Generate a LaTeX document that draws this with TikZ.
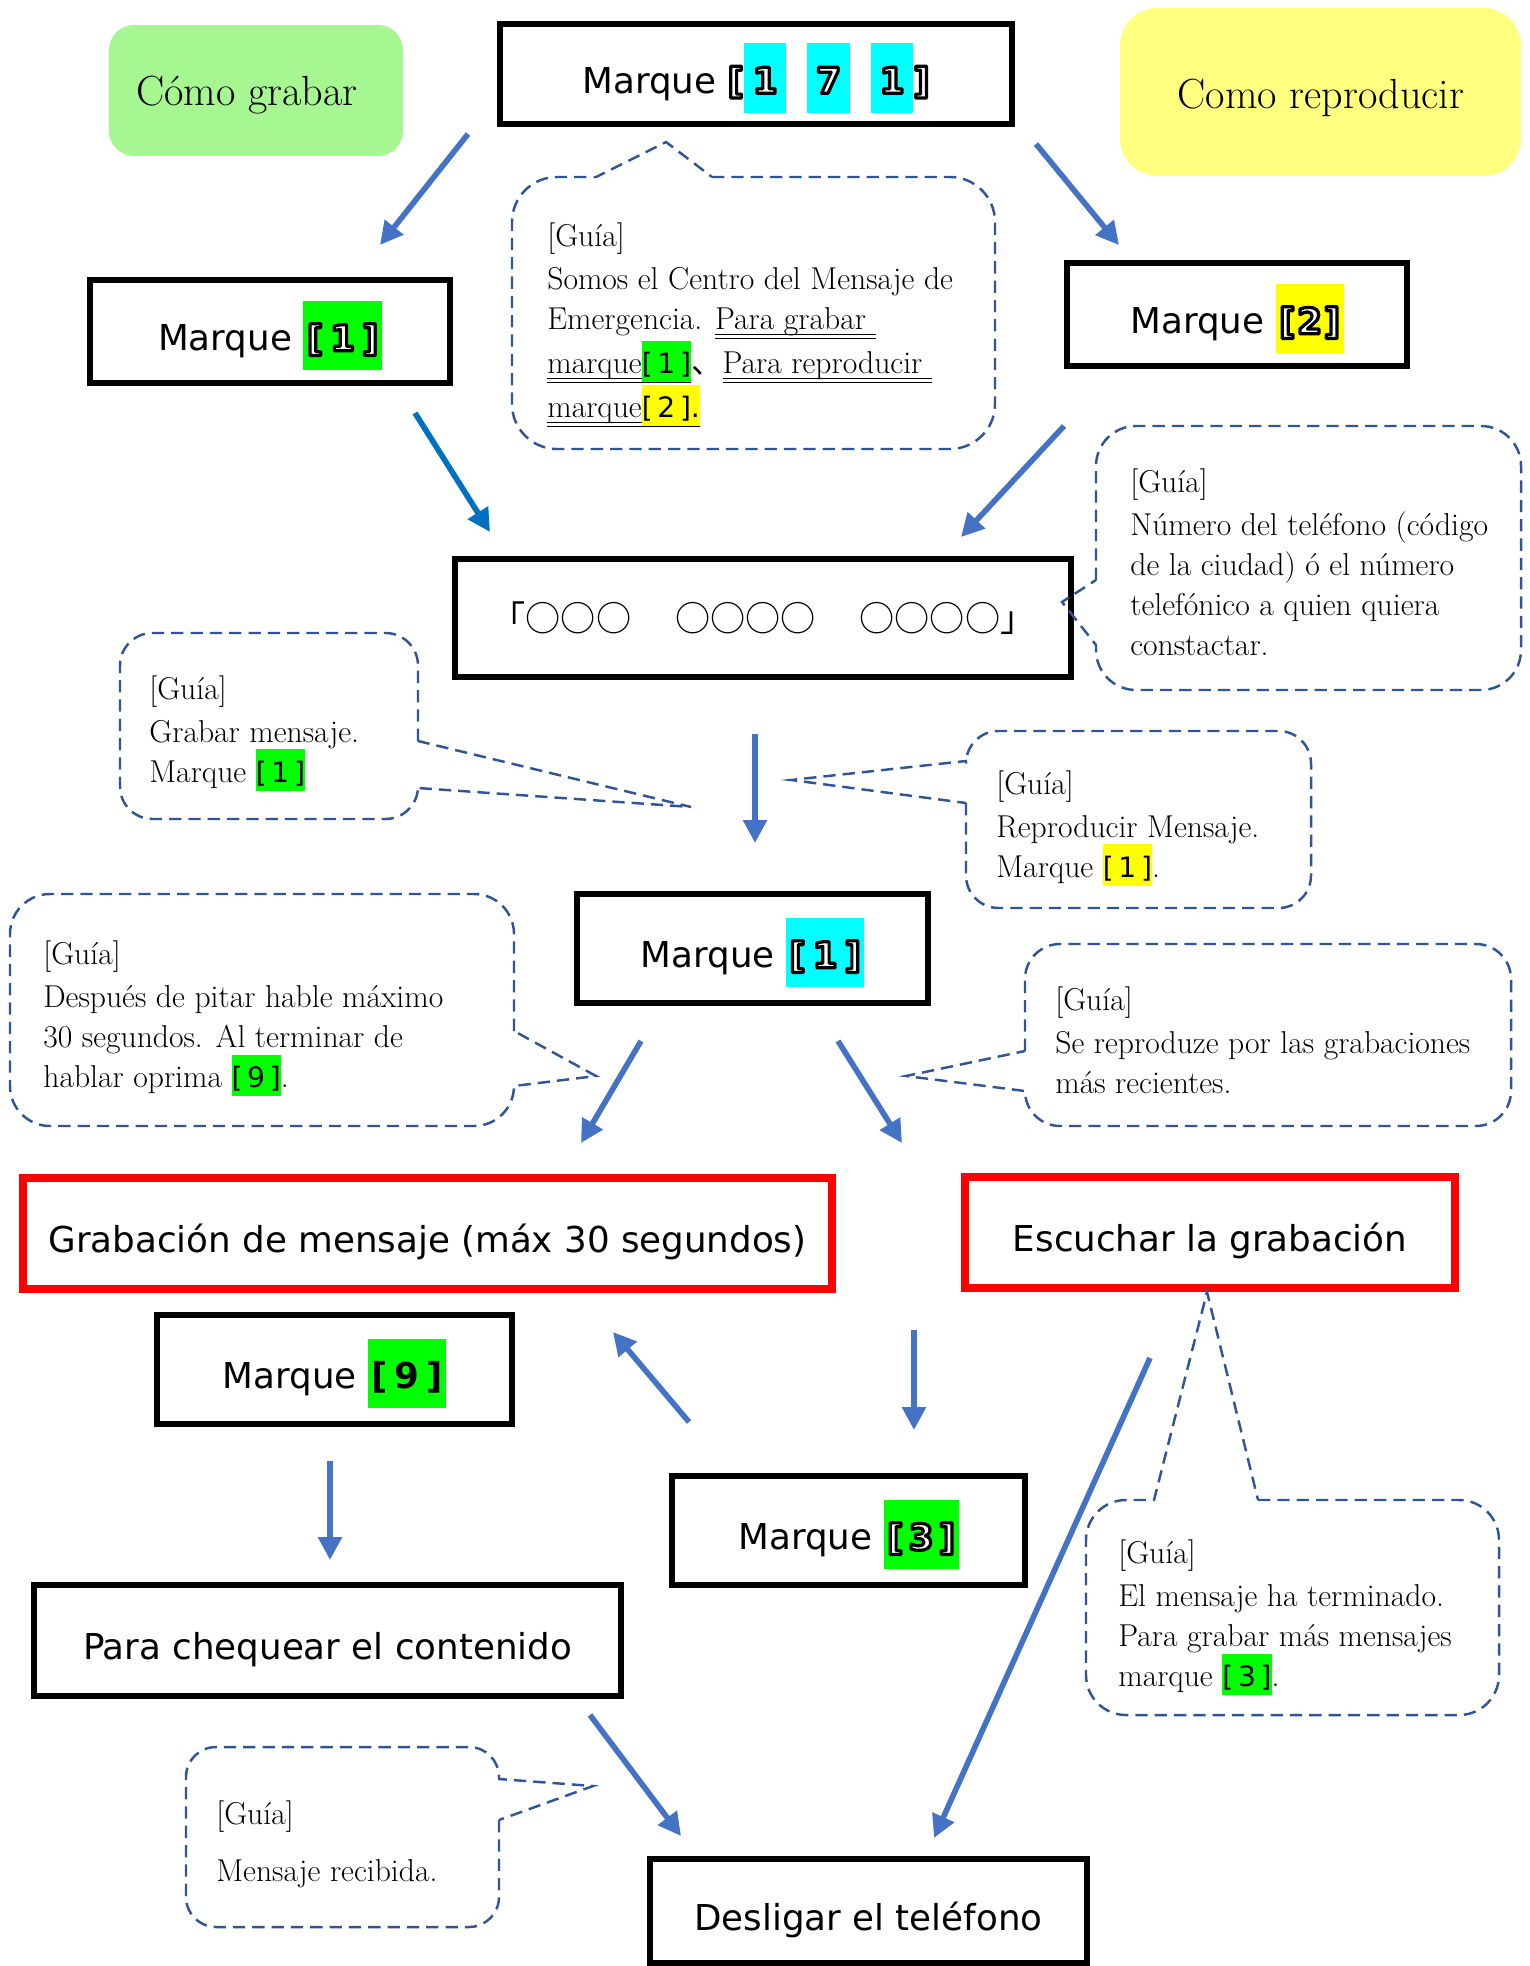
\documentclass[tikz,border=0pt]{standalone}
\usepackage{fontspec}
\usetikzlibrary{arrows.meta}
\newfontfamily\boxfont{DejaVu Sans}
\newfontfamily\olfont{DejaVu Sans Bold}[FakeBold=9]
\newfontfamily\cjk{Noto Sans CJK JP}
\definecolor{arrowblue}{RGB}{68,114,196}
\definecolor{arrowdark}{RGB}{0,112,192}
\definecolor{callblue}{RGB}{47,85,151}
\definecolor{hlcyan}{RGB}{0,255,255}
\definecolor{hlgreen}{RGB}{0,255,0}
\definecolor{hlyellow}{RGB}{255,255,0}
\definecolor{titlegreen}{RGB}{166,246,146}
\definecolor{titleyellow}{RGB}{255,255,128}
\newcommand\olt[1]{{\olfont\color{white}\special{pdf:literal direct 0 G 1 j}#1}}
\newcommand\hlb[2]{{\setlength{\fboxsep}{0pt}\colorbox{#1}{\rule[-0.55em]{0pt}{1.95em}#2}}}
\newcommand\hls[2]{{\setlength{\fboxsep}{0pt}\colorbox{#1}{\rule[-0.25em]{0pt}{1.3em}{\boxfont\fontsize{16pt}{16pt}\selectfont #2}}}}
\newcommand\dul[1]{\setbox0\hbox{#1}\rlap{\rule[-3.2pt]{\wd0}{0.6pt}}\rlap{\rule[-5.2pt]{\wd0}{0.6pt}}\box0}
\begin{document}
\begin{tikzpicture}[x=0.02cm,y=-0.02cm,
 box/.style={draw=black,line width=3.2pt,inner sep=0pt,align=center,font=\boxfont\fontsize{20.3pt}{24pt}\selectfont},
 ptext/.style={text height=26.8pt,text depth=4.9pt},
 htext/.style={text height=30pt,text depth=8pt},
 rbox/.style={box,ptext,draw=red,line width=4.3pt},
 ttl/.style={inner sep=0pt,font=\fontsize{24pt}{28pt}\selectfont},
 arr/.style={draw=arrowblue,line width=3.2pt,-{Triangle[length=13pt,width=13pt]}},
 callout/.style={draw=callblue,line width=1.4pt,dash pattern=on 7pt off 4pt},
 gtext/.style={anchor=north west,inner sep=0pt,align=left,font=\fontsize{18pt}{22.8pt}\selectfont}]
\useasboundingbox (0,0) rectangle (1529,1966);

% titles
\node[fill=titlegreen,rounded corners=0.5cm,minimum width=5.88cm,minimum height=2.62cm,inner sep=0pt] (tg) at (256,90.5) {};
\node[ttl] (tgt) at (247,95) {Cómo grabar};
\node[fill=titleyellow,rounded corners=0.75cm,minimum width=8.02cm,minimum height=3.36cm,inner sep=0pt] (ty) at (1320.5,92) {};
\node[ttl] (tyt) at (1321,98) {Como reproducir};

% boxes
\node[box,htext,minimum width=10.24cm,minimum height=2cm] (b171) at (756,74) {Marque \olt{[}\hlb{hlcyan}{\hspace{5pt}\olt{1}\hspace{5pt}}\hspace{12pt}\hlb{hlcyan}{\hspace{5pt}\olt{7}\hspace{5pt}}\hspace{12pt}\hlb{hlcyan}{\hspace{5pt}\olt{1}\hspace{5pt}}\olt{]}};
\node[box,htext,minimum width=7.2cm,minimum height=2.06cm] (b1) at (270,331.5) {Marque \hlb{hlgreen}{\hspace{2pt}\olt{[}\hspace{4pt}\olt{1}\hspace{4pt}\olt{]}\hspace{2pt}}};
\node[box,htext,minimum width=6.8cm,minimum height=2.06cm] (b2) at (1237,314.5) {Marque \hlb{hlyellow}{\hspace{2pt}\olt{[}\hspace{1pt}\olt{2}\hspace{1pt}\olt{]}\hspace{2pt}}};
\node[box,minimum width=12.32cm,minimum height=2.36cm] (phone) at (763,618) {{\cjk\fontsize{20pt}{24pt}\selectfont 「○○○\hspace{1.25em}○○○○\hspace{1.25em}○○○○」}};
\node[box,htext,minimum width=7.02cm,minimum height=2.18cm] (m1) at (752.5,948.5) {Marque \hlb{hlcyan}{\hspace{2pt}\olt{[}\hspace{4pt}\olt{1}\hspace{4pt}\olt{]}\hspace{2pt}}};
\node[rbox,minimum width=16.18cm,minimum height=2.22cm] (grab) at (427.5,1233.5) {Grabación de mensaje (máx 30 segundos)};
\node[rbox,minimum width=9.8cm,minimum height=2.22cm] (esc) at (1210,1232.5) {Escuchar la grabación};
\node[box,htext,minimum width=7.1cm,minimum height=2.18cm] (m9) at (334.5,1369.5) {Marque \hlb{hlgreen}{\hspace{2pt}\bfseries[\hspace{4pt}9\hspace{4pt}]\hspace{2pt}}};
\node[box,htext,minimum width=7.06cm,minimum height=2.18cm] (m3) at (848.5,1530.5) {Marque \hlb{hlgreen}{\hspace{2pt}\olt{[}\hspace{3pt}\olt{3}\hspace{3pt}\olt{]}\hspace{2pt}}};
\node[box,ptext,minimum width=11.74cm,minimum height=2.22cm] (chk) at (327.5,1640.5) {Para chequear el contenido};
\node[box,ptext,minimum width=8.74cm,minimum height=2.08cm] (des) at (868.5,1911) {Desligar el teléfono};

% arrows
\coordinate (a1s) at (468,134);  \coordinate (a1e) at (380,245);
\coordinate (a2s) at (1036,144); \coordinate (a2e) at (1119,245);
\coordinate (a3s) at (415,413);  \coordinate (a3e) at (490,532);
\coordinate (a4s) at (1064,426); \coordinate (a4e) at (961,537);
\coordinate (a5s) at (755,734);  \coordinate (a5e) at (755,843);
\coordinate (a6s) at (641,1041); \coordinate (a6e) at (581,1143);
\coordinate (a7s) at (838,1041); \coordinate (a7e) at (902,1143);
\coordinate (a8s) at (689,1422); \coordinate (a8e) at (613,1332);
\coordinate (a9s) at (914,1330); \coordinate (a9e) at (914,1430);
\coordinate (a10s) at (330,1461); \coordinate (a10e) at (330,1560);
\coordinate (a11s) at (1150,1358); \coordinate (a11e) at (934,1838);
\coordinate (a12s) at (590,1715); \coordinate (a12e) at (681,1836);
\draw[arr] (a1s) -- (a1e);
\draw[arr] (a2s) -- (a2e);
\draw[arr,draw=arrowdark] (a3s) -- (a3e);
\draw[arr] (a4s) -- (a4e);
\draw[arr] (a5s) -- (a5e);
\draw[arr] (a6s) -- (a6e);
\draw[arr] (a7s) -- (a7e);
\draw[arr] (a8s) -- (a8e);
\draw[arr] (a9s) -- (a9e);
\draw[arr] (a10s) -- (a10e);
\draw[arr] (a11s) -- (a11e);
\draw[arr] (a12s) -- (a12e);

% callouts
\draw[callout] (712,177) [rounded corners=0.9cm] -- (995,177) -- (995,449) -- (512,449) -- (512,177) [sharp corners] -- (596,177) -- (666,142) -- cycle;
\draw[callout] (1096,580) [rounded corners=0.8cm] -- (1096,426) -- (1521,426) -- (1521,690) -- (1096,690) [sharp corners] -- (1096,645) -- (1062,602) -- cycle;
\draw[callout] (418,741) [rounded corners=0.65cm] -- (418,633) -- (120,633) -- (120,819) -- (418,819) [sharp corners] -- (418,788) -- (691,807) -- cycle;
\draw[callout] (966,803) [rounded corners=0.65cm] -- (966,908) -- (1311,908) -- (1311,731) -- (966,731) [sharp corners] -- (966,761) -- (791,780) -- cycle;
\draw[callout] (514,1031) [rounded corners=0.8cm] -- (514,894) -- (10,894) -- (10,1126) -- (514,1126) [sharp corners] -- (514,1086) -- (596,1076) -- cycle;
\draw[callout] (1025,1051) [rounded corners=0.7cm] -- (1025,944) -- (1511,944) -- (1511,1126) -- (1025,1126) [sharp corners] -- (1025,1091) -- (906,1076) -- cycle;
\draw[callout] (1258,1500) [rounded corners=0.8cm] -- (1499,1500) -- (1499,1715) -- (1086,1715) -- (1086,1500) [sharp corners] -- (1154,1500) -- (1207,1292) -- cycle;
\draw[callout] (499,1820) [rounded corners=0.6cm] -- (499,1927) -- (186,1927) -- (186,1747) -- (499,1747) [sharp corners] -- (499,1779) -- (593,1786) -- cycle;

% callout texts
\node[gtext] (t1) at (547,222) {[Guía]\\[2pt]
Somos el Centro del Mensaje de\\
Emergencia. \dul{Para grabar\ }\\
\dul{marque\hls{hlgreen}{[\,1\,]}}{\cjk 、}\dul{Para reproducir\ }\\
\dul{marque\hls{hlyellow}{[\,2\,].}}};
\node[gtext] (t2) at (1130,468) {[Guía]\\[2pt]
Número del teléfono (código\\
de la ciudad) ó el número\\
telefónico a quien quiera\\
constactar.};
\node[gtext] (t3) at (149,675) {[Guía]\\[2pt]
Grabar mensaje.\\
Marque \hls{hlgreen}{[\,1\,]}};
\node[gtext] (t4) at (996,770) {[Guía]\\[2pt]
Reproducir Mensaje.\\
Marque \hls{hlyellow}{[\,1\,]}.};
\node[gtext] (t5) at (43,940) {[Guía]\\[2pt]
Después de pitar hable máximo\\
30 segundos. Al terminar de\\
hablar oprima \hls{hlgreen}{[\,9\,]}.};
\node[gtext] (t6) at (1055,986) {[Guía]\\[2pt]
Se reproduze por las grabaciones\\
más recientes.};
\node[gtext] (t7) at (1118,1539) {[Guía]\\[2pt]
El mensaje ha terminado.\\
Para grabar más mensajes\\
marque \hls{hlgreen}{[\,3\,]}.};
\node[gtext] (t8) at (216,1800) {[Guía]\\[10pt]
Mensaje recibida.};
\end{tikzpicture}
\end{document}
